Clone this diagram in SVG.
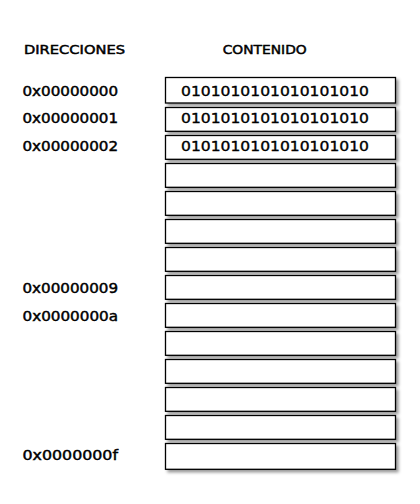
<svg xmlns="http://www.w3.org/2000/svg" width="420" height="504" viewBox="0 0 420 504">
<style>
.cell{fill:#fff;stroke:#000;stroke-width:1.3;filter:url(#sh)}
.hdr{font-family:"DejaVu Sans",sans-serif;font-size:12.8px;fill:#000;stroke:#000;stroke-width:0.5}
.lbl{font-family:"DejaVu Sans",sans-serif;font-size:13.5px;fill:#000;stroke:#000;stroke-width:0.45}
.val{font-family:"DejaVu Sans",sans-serif;font-size:14px;fill:#000;stroke:#000;stroke-width:0.35}
</style>
<defs>
<filter id="sh" x="-10%" y="-30%" width="130%" height="180%">
<feDropShadow dx="2.5" dy="2.5" stdDeviation="1.5" flood-color="#000" flood-opacity="0.4"/>
</filter>
</defs>
<rect width="420" height="504" fill="#fff"/>
<g id="headers">
<text class="hdr" x="24" y="54" textLength="101" lengthAdjust="spacingAndGlyphs">DIRECCIONES</text>
<text class="hdr" x="222.7" y="54" textLength="84" lengthAdjust="spacingAndGlyphs">CONTENIDO</text>
</g>
<g id="cells">
<g id="cell0"><rect class="cell" x="165.5" y="77.5" width="230" height="25.5"/><text class="val" x="181" y="95.7" textLength="188" lengthAdjust="spacingAndGlyphs">0101010101010101010</text></g>
<g id="cell1"><rect class="cell" x="165.5" y="107.5" width="230" height="23.8"/><text class="val" x="181" y="122.7" textLength="188" lengthAdjust="spacingAndGlyphs">0101010101010101010</text></g>
<g id="cell2"><rect class="cell" x="165.5" y="135.5" width="230" height="23.8"/><text class="val" x="181" y="150.7" textLength="188" lengthAdjust="spacingAndGlyphs">0101010101010101010</text></g>
<g id="cell3"><rect class="cell" x="165.5" y="163.5" width="230" height="23.8"/></g>
<g id="cell4"><rect class="cell" x="165.5" y="191.5" width="230" height="23.8"/></g>
<g id="cell5"><rect class="cell" x="165.5" y="219.5" width="230" height="23.8"/></g>
<g id="cell6"><rect class="cell" x="165.5" y="247.5" width="230" height="23.8"/></g>
<g id="cell7"><rect class="cell" x="165.5" y="275.5" width="230" height="23.8"/></g>
<g id="cell8"><rect class="cell" x="165.5" y="303.5" width="230" height="23.8"/></g>
<g id="cell9"><rect class="cell" x="165.5" y="331.5" width="230" height="23.8"/></g>
<g id="cell10"><rect class="cell" x="165.5" y="359.5" width="230" height="23.8"/></g>
<g id="cell11"><rect class="cell" x="165.5" y="387.5" width="230" height="23.8"/></g>
<g id="cell12"><rect class="cell" x="165.5" y="415.5" width="230" height="23.8"/></g>
<g id="cell13"><rect class="cell" x="165.5" y="443.5" width="230" height="25.8"/></g>
</g>
<g id="addresses">
<text class="lbl" x="22.5" y="95.7" textLength="95.5" lengthAdjust="spacingAndGlyphs">0x00000000</text>
<text class="lbl" x="22.5" y="122.5" textLength="95.5" lengthAdjust="spacingAndGlyphs">0x00000001</text>
<text class="lbl" x="22.5" y="150.5" textLength="95.5" lengthAdjust="spacingAndGlyphs">0x00000002</text>
<text class="lbl" x="22.5" y="292.5" textLength="95.5" lengthAdjust="spacingAndGlyphs">0x00000009</text>
<text class="lbl" x="22.5" y="320.5" textLength="95.5" lengthAdjust="spacingAndGlyphs">0x0000000a</text>
<text class="lbl" x="22.5" y="459.5" textLength="95.5" lengthAdjust="spacingAndGlyphs">0x0000000f</text>
</g>
</svg>
